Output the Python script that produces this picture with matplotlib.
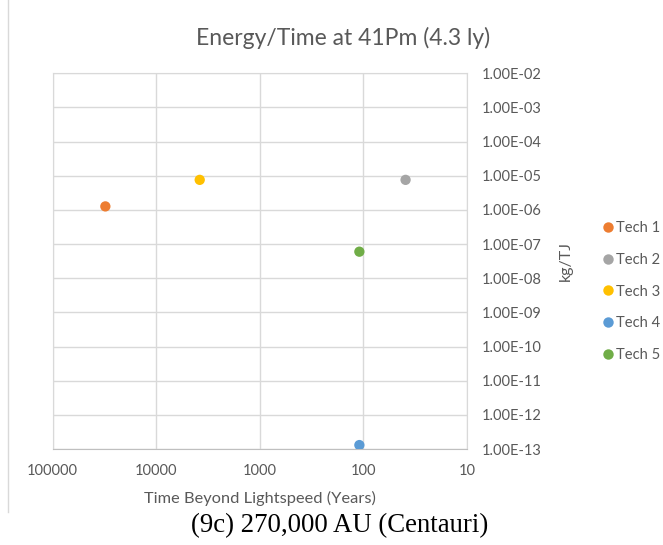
import matplotlib as mplt
mplt.use("Agg")
import matplotlib.pyplot as plt
from matplotlib.ticker import FixedLocator, FuncFormatter
from matplotlib.lines import Line2D

# data
techs = ["Tech 1", "Tech 2", "Tech 3", "Tech 4", "Tech 5"]
years = [31000, 39, 3800, 109, 109]
kg_per_tj = [1.27e-6, 7.6e-6, 7.6e-6, 1.31e-13, 6.0e-8]
colors = ["#ED7D31", "#A5A5A5", "#FFC000", "#5B9BD5", "#70AD47"]

x_ticks = [100000, 10000, 1000, 100, 10]
y_ticks = [10.0 ** e for e in range(-13, -1)]

txt = "#595959"
grid_c = "#D9D9D9"
plt.rcParams["font.family"] = ["Lato", "DejaVu Sans"]

fig = plt.figure(figsize=(6.63, 5.45), dpi=100)
ax = fig.add_axes([0.0795, 0.176, 0.6245, 0.6895])

for name, x, y, c in zip(techs, years, kg_per_tj, colors):
    ax.scatter(x, y, s=55, color=c, edgecolors="none", zorder=3, label=name)

ax.set_xscale("log")
ax.set_yscale("log")
ax.set_xlim(100000, 10)
ax.set_ylim(1e-13, 1e-2)

ax.xaxis.set_major_locator(FixedLocator(x_ticks))
ax.xaxis.set_minor_locator(FixedLocator([]))
ax.xaxis.set_major_formatter(FuncFormatter(lambda v, p: f"{v:.0f}"))
ax.yaxis.set_major_locator(FixedLocator(y_ticks))
ax.yaxis.set_minor_locator(FixedLocator([]))
ax.yaxis.set_major_formatter(FuncFormatter(lambda v, p: f"{v:.2E}"))
ax.yaxis.tick_right()
ax.yaxis.set_label_position("right")

ax.grid(True, color=grid_c, lw=1)
ax.set_axisbelow(True)
for s in ax.spines.values():
    s.set_color(grid_c)
ax.spines["bottom"].set_color("#BFBFBF")
ax.tick_params(length=0, labelsize=10.5, colors=txt)
ax.tick_params(axis="x", pad=11)
ax.tick_params(axis="y", pad=11)

ax.set_xlabel("Time Beyond Lightspeed (Years)", fontsize=11.8, color=txt, labelpad=9)
ax.set_ylabel("kg/TJ", fontsize=11.5, color=txt, labelpad=12)

fig.text(0.518, 0.93, "Energy/Time at 41Pm (4.3 ly)", ha="center", va="center",
         fontsize=16.5, color=txt)

handles = [Line2D([], [], ls="", marker="o", ms=7.5, color=c, markeredgewidth=0) for c in colors]
ax.legend(handles, techs, loc="center left", bbox_to_anchor=(0.911, 0.465),
          bbox_transform=fig.transFigure, frameon=False, fontsize=10.6,
          handlelength=0.5, handletextpad=0.3, labelspacing=1.2,
          borderpad=0, borderaxespad=0, labelcolor=txt)

# faint chart border on the left
fig.add_artist(Line2D([0.012, 0.012], [0.06, 1.0], color=grid_c, lw=1,
                      transform=fig.transFigure))

fig.text(0.513, 0.035, "(9c) 270,000 AU (Centauri)", ha="center", va="center",
         fontsize=19.3, family="Liberation Serif", color="black")

fig.savefig("out.png", dpi=100, facecolor="white")
